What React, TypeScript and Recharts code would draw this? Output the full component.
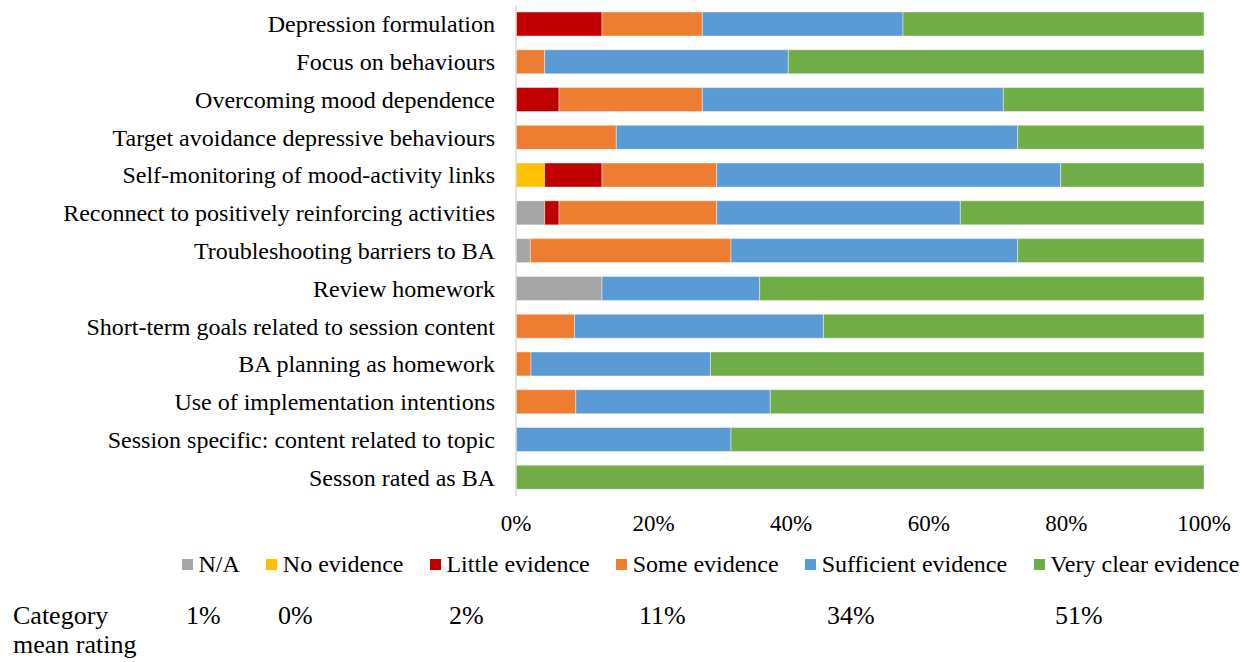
import React from 'react';
import { BarChart, Bar, XAxis, YAxis } from 'recharts';

const categories = [
  'Depression formulation',
  'Focus on behaviours',
  'Overcoming mood dependence',
  'Target avoidance depressive behaviours',
  'Self-monitoring of mood-activity links',
  'Reconnect to positively reinforcing activities',
  'Troubleshooting barriers to BA',
  'Review homework',
  'Short-term goals related to session content',
  'BA planning as homework',
  'Use of implementation intentions',
  'Session specific: content related to topic',
  'Sesson rated as BA',
];

// number of rated sessions per evidence level, one entry per item above
const notApplicable = [0, 0, 0, 0, 0, 2, 1, 6, 0, 0, 0, 0, 0];
const noEvidence = [0, 0, 0, 0, 2, 0, 0, 0, 0, 0, 0, 0, 0];
const littleEvidence = [6, 0, 3, 0, 4, 1, 0, 0, 0, 0, 0, 0, 0];
const someEvidence = [7, 2, 10, 7, 8, 11, 14, 0, 4, 1, 4, 0, 0];
const sufficientEvidence = [14, 17, 21, 28, 24, 17, 20, 11, 17, 12, 13, 15, 0];
const veryClearEvidence = [21, 29, 14, 13, 10, 17, 13, 31, 26, 33, 29, 33, 48];

const seriesNames = ['N/A', 'No evidence', 'Little evidence', 'Some evidence', 'Sufficient evidence', 'Very clear evidence'];
const meanRatings = ['1%', '0%', '2%', '11%', '34%', '51%'];
const xTicks = [0, 0.2, 0.4, 0.6, 0.8, 1];

const COLORS = ['#A5A5A5', '#FFC000', '#C00000', '#ED7D31', '#5B9BD5', '#70AD47'];
const SERIES_KEYS = ['na', 'none', 'little', 'some', 'sufficient', 'veryClear'];
const MEAN_LEFT = [186, 278, 449, 639, 827, 1055];

const FONT = '"Liberation Serif", "Times New Roman", serif';

const chartData = categories.map((item, i) => ({
  item,
  na: notApplicable[i],
  none: noEvidence[i],
  little: littleEvidence[i],
  some: someEvidence[i],
  sufficient: sufficientEvidence[i],
  veryClear: veryClearEvidence[i],
}));

const App: React.FC = () => {
  return (
    <div
      style={{
        position: 'absolute',
        left: 0,
        top: 0,
        width: 1248,
        height: 662,
        background: '#fff',
        fontFamily: FONT,
        color: '#000',
      }}
    >
      <BarChart
        width={1248}
        height={662}
        data={chartData}
        layout="vertical"
        stackOffset="expand"
        margin={{ top: 5, right: 44, bottom: 126, left: 0 }}
      >
        <XAxis
          type="number"
          domain={[0, 1]}
          ticks={xTicks}
          tickFormatter={(v: number) => `${Math.round(v * 100)}%`}
          axisLine={false}
          tickLine={false}
          tickSize={0}
          tickMargin={19}
          height={40}
          tick={{ fill: '#000', fontSize: 23, fontFamily: FONT }}
        />
        <YAxis
          type="category"
          dataKey="item"
          width={516}
          interval={0}
          tickLine={false}
          tickSize={0}
          tickMargin={21}
          axisLine={{ stroke: '#d9d9d9', strokeWidth: 1.5 }}
          tick={{ fill: '#000', fontSize: 24, fontFamily: FONT }}
        />
        {SERIES_KEYS.map((key, index) => (
          <Bar
            key={key}
            dataKey={key}
            name={seriesNames[index]}
            stackId="rating"
            fill={COLORS[index]}
            stroke="#ffffff"
            strokeWidth={0.6}
            strokeOpacity={0.7}
            barSize={24}
            isAnimationActive={false}
          />
        ))}
      </BarChart>

      {/* legend row */}
      <div
        style={{
          position: 'absolute',
          left: 182,
          top: 552,
          display: 'flex',
          alignItems: 'center',
          height: 24,
          lineHeight: '24px',
          fontSize: 24,
          whiteSpace: 'nowrap',
        }}
      >
        {seriesNames.map((name, index) => (
          <div key={name} style={{ display: 'flex', alignItems: 'center', marginRight: 26.5 }}>
            <span
              style={{
                display: 'inline-block',
                width: 11,
                height: 11,
                marginRight: 5.5,
                backgroundColor: COLORS[index],
              }}
            ></span>
            <span>{name}</span>
          </div>
        ))}
      </div>

      {/* category mean rating row */}
      <div
        style={{
          position: 'absolute',
          left: 13,
          top: 601,
          fontSize: 26,
          lineHeight: '29px',
        }}
      >
        Category
        <br />
        mean rating
      </div>
      {meanRatings.map((value, index) => (
        <div
          key={index}
          style={{
            position: 'absolute',
            left: MEAN_LEFT[index],
            top: 601,
            fontSize: 26,
            lineHeight: '29px',
          }}
        >
          {value}
        </div>
      ))}
    </div>
  );
};

export default App;
